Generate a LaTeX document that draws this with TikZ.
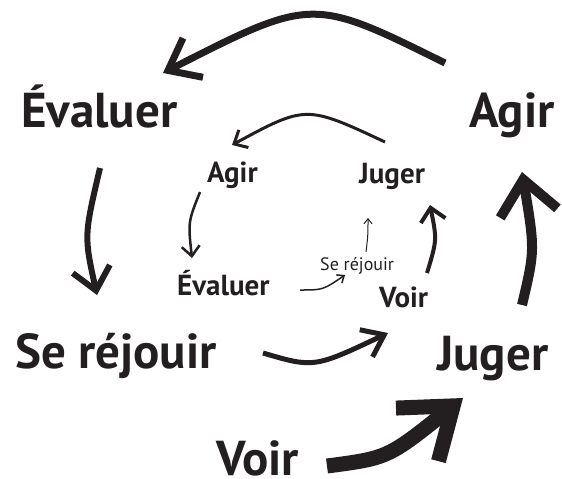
\documentclass[tikz,border=0pt]{standalone}
\usepackage{fontspec}
\setmainfont{PT Sans}
\usetikzlibrary{arrows.meta}
\definecolor{ink}{RGB}{35,31,32}

\begin{document}
\begin{tikzpicture}[x=1pt,y=-1pt,inner sep=0pt,anchor=base west,
  big/.style={font=\fontsize{49}{54}\selectfont\bfseries},
  mid/.style={font=\fontsize{29}{32}\selectfont\bfseries},
  tiny/.style={font=\fontsize{18}{20}\selectfont},
  arr/.style n args={3}{draw=ink,line width=#1,-{Straight Barb[sharp,length=#2,width=#3]}}]
\useasboundingbox (0,0) rectangle (562,479);
% outer cycle
\node[big,text=ink] (evalBig) at (21,127) {Évaluer};
\node[big,text=ink] (agirBig) at (469,127) {Agir};
\node[big,text=ink] (rejouirBig) at (15,368) {Se réjouir};
\node[big,text=ink] (jugerBig) at (437,370) {Juger};
\node[big,text=ink] (voirBig) at (216,475) {Voir};
% inner cycle
\node[mid,text=ink] (agirSm) at (207,182) {Agir};
\node[mid,text=ink] (jugerSm) at (359,183) {Juger};
\node[mid,text=ink] (evalSm) at (177,295) {Évaluer};
\node[mid,text=ink] (voirSm) at (379,307) {Voir};
\node[tiny,text=ink] (rejouirSm) at (320,270) {Se réjouir};
% arrow ends
\coordinate (a1) at (445,63);   \coordinate (b1) at (163,73);
\coordinate (a2) at (100,168);  \coordinate (b2) at (97,295);
\coordinate (a3) at (263,353);  \coordinate (b3) at (388,333);
\coordinate (a4) at (327,466);  \coordinate (b4) at (463,398);
\coordinate (a5) at (522,305);  \coordinate (b5) at (522,172);
\coordinate (a6) at (385,142);  \coordinate (b6) at (232,145);
\coordinate (a7) at (200,192);  \coordinate (b7) at (192,258);
\coordinate (a8) at (300,290);  \coordinate (b8) at (345,275);
\coordinate (a9) at (366,252);  \coordinate (b9) at (368,218);
\coordinate (a10) at (427,273); \coordinate (b10) at (430,205);
\path[arr={7pt}{28pt}{44pt}] (a1) .. controls (312,-3) .. (b1);
\path[arr={6pt}{22pt}{38pt}] (a2) .. controls (84,236) .. (b2);
\path[arr={5pt}{20pt}{30pt}] (a3) .. controls (314,368) .. (b3);
\path[arr={15pt}{46pt}{68pt}] (a4) .. controls (388,458) .. (b4);
\path[arr={10pt}{34pt}{58pt}] (a5) .. controls (535,250) .. (b5);
\path[arr={3pt}{11pt}{20pt}] (a6) .. controls (306,105) .. (b6);
\path[arr={2.5pt}{10pt}{18pt}] (a7) .. controls (188,222) .. (b7);
\path[arr={1.5pt}{6pt}{10pt}] (a8) .. controls (323,290) .. (b8);
\path[arr={1pt}{5pt}{8pt}] (a9) .. controls (368,235) .. (b9);
\path[arr={4pt}{13pt}{25pt}] (a10) .. controls (437,240) .. (b10);
\end{tikzpicture}
\end{document}
